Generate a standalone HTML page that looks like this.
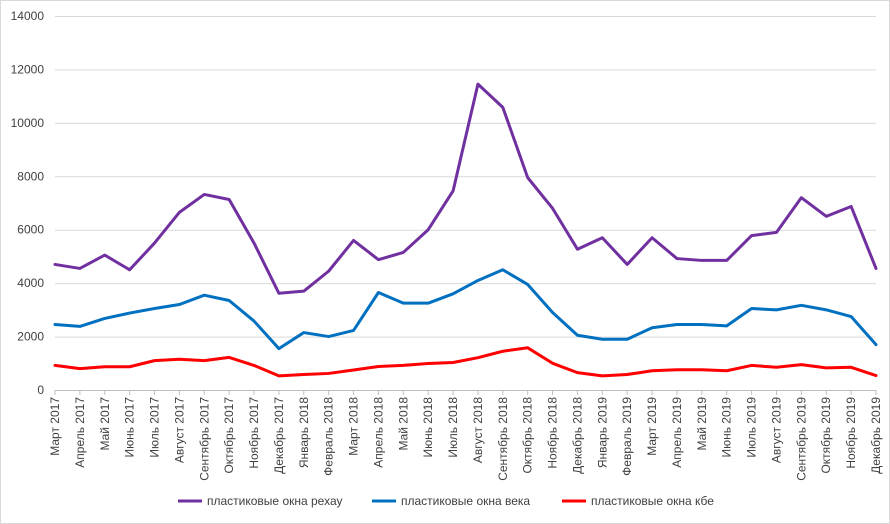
<!DOCTYPE html>
<html><head><meta charset="utf-8"><style>
body{margin:0;background:#fff;}
svg{display:block;font-family:"Liberation Sans",sans-serif;}
</style></head><body>
<svg id="chart" width="890" height="524">
<rect x="0.5" y="0.5" width="889" height="523" fill="#fff" stroke="#d9d9d9"/>
<g id="grid"></g><g id="ylabels"></g><g id="xlabels"></g><g id="series"></g><g id="legend"></g>
</svg>
<script>
const categories=["Март 2017","Апрель 2017","Май 2017","Июнь 2017","Июль 2017","Август 2017","Сентябрь 2017","Октябрь 2017","Ноябрь 2017","Декабрь 2017","Январь 2018","Февраль 2018","Март 2018","Апрель 2018","Май 2018","Июнь 2018","Июль 2018","Август 2018","Сентябрь 2018","Октябрь 2018","Ноябрь 2018","Декабрь 2018","Январь 2019","Февраль 2019","Март 2019","Апрель 2019","Май 2019","Июнь 2019","Июль 2019","Август 2019","Сентябрь 2019","Октябрь 2019","Ноябрь 2019","Декабрь 2019"];
const rehau=[4700,4550,5050,4500,5500,6650,7320,7130,5500,3620,3700,4450,5600,4880,5150,6000,7450,11450,10580,7950,6800,5270,5700,4700,5700,4920,4850,4850,5780,5900,7200,6500,6870,4550];
const veka=[2450,2380,2680,2880,3050,3200,3550,3350,2580,1550,2150,2000,2230,3650,3250,3250,3600,4100,4500,3950,2900,2050,1900,1900,2330,2450,2450,2400,3050,3000,3170,3000,2750,1700];
const kbe=[920,800,870,870,1100,1150,1100,1220,920,530,580,620,750,880,920,990,1030,1210,1450,1580,1000,650,530,580,720,760,760,720,920,850,950,830,850,540];
const yTicks=[0,2000,4000,6000,8000,10000,12000,14000];
const seriesNames=["пластиковые окна рехау","пластиковые окна века","пластиковые окна кбе"];
const ns="http://www.w3.org/2000/svg";
const X0=55,X1=876,Y0=390,Y1=16,YMAX=14000;
const x=i=>X0+(X1-X0)*i/(categories.length-1);
const y=v=>Y0-(Y0-Y1)*v/YMAX;
function mk(tag,attrs,parent){const e=document.createElementNS(ns,tag);for(const k in attrs)e.setAttribute(k,attrs[k]);parent.appendChild(e);return e;}
const grid=document.getElementById('grid'),yl=document.getElementById('ylabels'),xl=document.getElementById('xlabels'),sg=document.getElementById('series'),lg=document.getElementById('legend');
yTicks.forEach(t=>{
  const l=mk('line',{x1:X0,x2:X1,y1:y(t)+0.5,y2:y(t)+0.5,stroke:t===0?'#bfbfbf':'#d9d9d9'},grid);
  
  
  const tx=mk('text',{x:X0-11,y:y(t)+4,'text-anchor':'end','font-size':'12',fill:'#404040'},yl);
  tx.textContent=t;
  
  
});
categories.forEach((c,i)=>{
  const tk=mk('line',{x1:x(i),x2:x(i),y1:Y0,y2:Y0+5,stroke:'#bfbfbf'},grid);
  
  
  const tx=mk('text',{x:0,y:0,'text-anchor':'end','font-size':'12',fill:'#404040',transform:`translate(${x(i)+4},${Y0+7}) rotate(-90)`},xl);
  tx.textContent=c;
  
  
});
const data=[rehau,veka,kbe],colors=["#7030a0","#0070c0","#ff0000"],names=["rehau-line","veka-line","kbe-line"];
data.forEach((d,s)=>{
  const p=mk('polyline',{points:d.map((v,i)=>x(i)+','+y(v)).join(' '),fill:'none',stroke:colors[s],'stroke-width':3,'stroke-linejoin':'round','stroke-linecap':'round'},sg);
  
  
});
const lx=[178,372,562];
seriesNames.forEach((n,s)=>{
  const g=mk('g',{},lg);
  
  
  mk('line',{x1:lx[s],x2:lx[s]+24,y1:501,y2:501,stroke:colors[s],'stroke-width':3},g);
  const t=mk('text',{x:lx[s]+29,y:505,'font-size':'12',fill:'#404040'},g);
  t.textContent=n;
});
</script>
</body></html>
